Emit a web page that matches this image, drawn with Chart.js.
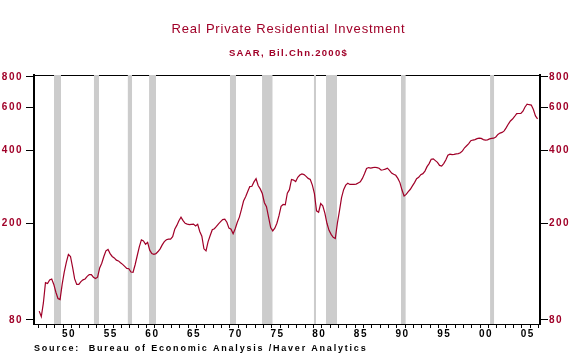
<!DOCTYPE html>
<html>
<head>
<meta charset="utf-8">
<script src="https://cdn.jsdelivr.net/npm/chart.js@4.4.0/dist/chart.umd.min.js"></script>
<style>
  html, body { margin: 0; padding: 0; background: #ffffff; }
  #wrap { width: 577px; height: 355px; }
</style>
</head>
<body>
<div id="wrap"><canvas id="c" width="577" height="355"></canvas></div>
<script>
// ---------- DATA ----------
const titleText = "Real Private Residential Investment";
const subtitleText = "SAAR, Bil.Chn.2000$";
const sourceText = "Source:  Bureau of Economic Analysis /Haver Analytics";

// Quarterly series, 1947Q1 .. 2006Q4 (Bil. Chn. 2000$)
const firstYear = 1947;
const investment = [
  87, 82.5, 94, 114, 113, 117, 118, 112, 104, 98,
  97, 112, 126, 138, 149, 146, 132, 118, 112, 112,
  115, 117, 118, 121, 123, 123, 120, 118.5, 120, 131,
  137, 146, 154, 156, 150, 146, 144, 141, 140, 137.5,
  135.5, 133, 130.5, 130, 126, 125.7, 135, 147, 160, 171,
  169, 164, 167, 155, 150, 149, 150, 153, 157, 163,
  168, 171, 172, 172, 176, 189, 196, 205, 212, 205,
  200, 198.5, 197.5, 198, 198.5, 195, 198, 185, 177, 157,
  154, 168, 178, 188, 190, 194, 199, 203, 207, 208,
  202, 191, 189, 181, 190, 202, 212, 228, 247, 257,
  270, 283, 284, 296, 305, 286, 277, 265, 243, 234,
  212, 192, 186, 191, 200, 215, 235, 239, 238, 266,
  275, 303, 301, 297, 309, 316, 319, 317, 312, 306,
  303, 287, 265, 225, 222, 241, 236, 220, 200, 187,
  180, 175, 173, 200, 225, 255, 275, 287, 292, 289,
  289, 289, 290, 293, 296, 306, 320, 336, 339, 337,
  339, 340, 339, 337, 331, 332, 334, 337, 330, 322,
  318, 315, 306, 294, 274, 259, 263, 270, 276, 285,
  294, 305, 309, 317, 320, 328, 342, 352, 367, 368,
  362, 356, 346, 344, 352, 364, 381, 385, 383, 384,
  386, 387, 390, 397, 409, 417, 425, 437, 440, 442,
  446, 448, 447, 442, 440, 441, 445, 447, 448, 453,
  464, 470, 473, 480, 495, 512, 527, 537, 550, 565,
  566, 566, 578, 602, 618, 615, 613, 588, 553, 538
];

// Recession periods (fractional years)
const recessionStarts = [1948.9, 1953.67, 1957.72, 1960.3, 1969.98, 1973.84, 1980.05, 1981.5, 1990.5, 2001.18];
const recessionEnds   = [1949.75, 1954.3, 1958.27, 1961.13, 1970.72, 1975.12, 1980.32, 1982.83, 1991.08, 2001.68];

// Axis ticks
const yTickValues = [80, 200, 400, 600, 800];
const xTickYears = [];
for (let y = 1947; y <= 2007; y++) xTickYears.push(y);
const xMin = 1946.5, xMax = 2007.17;
const yMin = 77, yMax = 815;

// ---------- BUILD ----------
const RED = '#a00028';
const FONT = "'Liberation Sans', Arial, Helvetica, sans-serif";
Chart.defaults.font.family = FONT;

const linePoints = investment.map((v, i) => ({ x: firstYear + 0.125 + i * 0.25, y: v }));
const recessionPoints = [];
recessionStarts.forEach((s, k) => {
  recessionPoints.push({ x: s, y: yMax });
  recessionPoints.push({ x: recessionEnds[k], y: yMax });
  recessionPoints.push({ x: recessionEnds[k], y: null });
});

const spacingPlugin = {
  id: 'letterSpacing',
  beforeDraw(chart) {
    if (chart.$lsPatched) return;
    chart.$lsPatched = true;
    const patch = (obj, method, ls) => {
      if (!obj || !obj[method]) return;
      const orig = obj[method];
      obj[method] = function (...a) {
        const c = this.ctx;
        c.save();
        c.letterSpacing = ls;
        const r = orig.apply(this, a);
        c.restore();
        return r;
      };
    };
    const tb = chart.titleBlock;
    patch(tb, 'draw', '0.8px');
    const sub = chart.boxes.find(b => b !== tb && b.options && b.options.text === subtitleText);
    patch(sub, 'draw', '1.3px');
    patch(chart.scales.y, 'drawLabels', '1.5px');
    patch(chart.scales.y2, 'drawLabels', '1.5px');
    patch(chart.scales.x, 'drawLabels', '1.5px');
    patch(chart.scales.x, 'drawTitle', '1.8px');
  }
};

const yAxisCommon = {
  type: 'logarithmic',
  min: yMin,
  max: yMax,
  afterBuildTicks: s => { s.ticks = yTickValues.map(v => ({ value: v })); },
  grid: { drawOnChartArea: false, tickLength: 8, color: '#000', lineWidth: 1 },
  border: { display: true, color: '#000', width: 2 },
};

new Chart(document.getElementById('c'), {
  type: 'line',
  data: {
    datasets: [
      {
        label: 'Real Private Residential Investment',
        data: linePoints,
        borderColor: RED,
        borderWidth: 1.2,
        pointRadius: 0,
        tension: 0,
        fill: false,
        order: 1,
        xAxisID: 'x',
        yAxisID: 'y'
      },
      {
        label: 'Recession',
        data: recessionPoints,
        borderWidth: 0,
        borderColor: 'rgba(0,0,0,0)',
        backgroundColor: '#cccccc',
        pointRadius: 0,
        fill: 'start',
        spanGaps: false,
        order: 2,
        xAxisID: 'x',
        yAxisID: 'y'
      }
    ]
  },
  options: {
    responsive: false,
    animation: false,
    devicePixelRatio: 1,
    layout: { padding: { top: 0, left: 0, right: 0, bottom: 0 } },
    plugins: {
      legend: { display: false },
      tooltip: { enabled: false },
      title: {
        display: true,
        text: titleText,
        color: RED,
        font: { size: 13, weight: 'normal', family: FONT },
        padding: { top: 22, bottom: 8 }
      },
      subtitle: {
        display: true,
        text: subtitleText,
        color: RED,
        font: { size: 9.5, weight: 'bold', family: FONT },
        padding: { top: 1.7, bottom: 16.3 }
      }
    },
    scales: {
      x: {
        type: 'linear',
        position: 'bottom',
        min: xMin,
        max: xMax,
        afterBuildTicks: s => { s.ticks = xTickYears.map(v => ({ value: v })); },
        afterFit: s => { s.height = 31; },
        ticks: {
          autoSkip: false,
          maxRotation: 0,
          minRotation: 0,
          padding: 0,
          labelOffset: 5.8,
          color: '#000',
          font: { size: 10, weight: 'bold', family: FONT },
          callback: v => (v % 5 === 0 ? String(v).slice(2) : '')
        },
        grid: { drawOnChartArea: false, tickLength: 4, color: '#000', lineWidth: 1 },
        border: { display: true, color: '#000', width: 1 },
        title: {
          display: true,
          text: sourceText,
          align: 'start',
          color: '#000',
          font: { size: 9, weight: 'bold', family: FONT },
          padding: { top: 0, bottom: 1.5 }
        }
      },
      xTop: {
        type: 'linear',
        position: 'top',
        min: xMin,
        max: xMax,
        ticks: { display: false },
        grid: { display: false, drawTicks: false },
        border: { display: true, color: '#000', width: 1 },
        afterFit: s => { s.height = 0; }
      },
      y: Object.assign({}, yAxisCommon, {
        position: 'left',
        afterFit: s => { s.width = 34; },
        ticks: {
          autoSkip: false,
          padding: 3,
          color: RED,
          font: { size: 10, weight: 'bold', family: FONT },
          callback: v => String(v)
        }
      }),
      y2: Object.assign({}, yAxisCommon, {
        position: 'right',
        afterFit: s => { s.width = 37; },
        ticks: {
          autoSkip: false,
          padding: 1,
          color: RED,
          font: { size: 10, weight: 'bold', family: FONT },
          callback: v => String(v)
        }
      })
    }
  },
  plugins: [spacingPlugin]
});
</script>
</body>
</html>
